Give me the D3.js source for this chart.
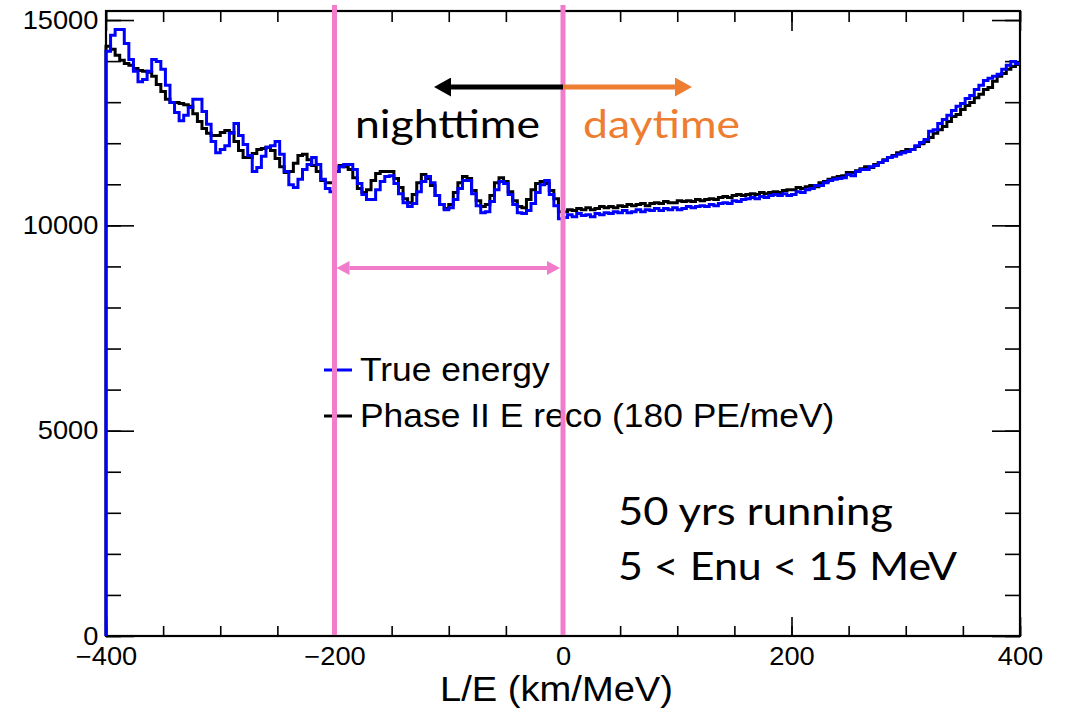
<!DOCTYPE html>
<html>
<head>
<meta charset="utf-8">
<script src="https://cdn.jsdelivr.net/npm/d3@7"></script>
<style>
  body { margin: 0; background: #fff; }
  text { font-family: "Liberation Sans", Arial, Helvetica, sans-serif; }
  .note { font-family: Lato, "Open Sans", sans-serif; }
</style>
</head>
<body>
<div id="vis"></div>
<script>
// histogram binning: 200 bins of 4 km/MeV from -400 to 400
const binStart = -400;
const binWidth = 4;

// true neutrino energy, counts per bin
const trueEnergy = [
  14240, 14630, 14770, 14770, 14430, 14040, 13750, 13500, 13550, 13750,
  14040, 13990, 13800, 13410, 12990, 12750, 12550, 12680, 12870, 13070,
  13070, 12770, 12460, 12040, 11770, 11850, 11940, 12240, 12480, 12190,
  11970, 11700, 11310, 11410, 11680, 11900, 11940, 12040, 11730, 11310,
  10990, 10920, 11120, 11360, 11480, 11650, 11480, 11120, 10900, 10820,
  11310, 11430, 11480, 11480, 11360, 11020, 10750, 10630, 10630, 10870,
  11070, 11190, 11210, 11020, 10770, 10550, 10460, 10530, 10820, 11070,
  11190, 11040, 10730, 10510, 10380, 10430, 10630, 10900, 11090, 11090,
  10770, 10480, 10310, 10330, 10580, 10870, 11070, 11020, 10750, 10510,
  10310, 10290, 10360, 10530, 10800, 10990, 11090, 10750, 10480, 10160,
  10190, 10260, 10210, 10290, 10240, 10260, 10210, 10290, 10260, 10310,
  10290, 10330, 10310, 10360, 10310, 10330, 10380, 10330, 10380, 10360,
  10410, 10360, 10410, 10380, 10430, 10380, 10410, 10460, 10430, 10460,
  10480, 10460, 10510, 10480, 10530, 10550, 10530, 10600, 10580, 10630,
  10650, 10680, 10650, 10700, 10680, 10730, 10750, 10730, 10770, 10730,
  10750, 10820, 10800, 10870, 10900, 10970, 10970, 11040, 11090, 11120,
  11140, 11160, 11240, 11210, 11310, 11360, 11360, 11430, 11460, 11530,
  11580, 11650, 11680, 11730, 11770, 11800, 11850, 11940, 12020, 12090,
  12290, 12330, 12480, 12580, 12680, 12800, 12900, 12970, 13090, 13160,
  13310, 13410, 13530, 13580, 13630, 13680, 13800, 13900, 13990, 13940
];

// Phase II reconstructed energy (180 PE/MeV), counts per bin
const phaseTwoReco = [
  14360, 14290, 14140, 14020, 13940, 13900, 13820, 13770, 13750, 13730,
  13630, 13430, 13260, 13070, 12990, 12990, 12970, 12940, 12900, 12720,
  12530, 12360, 12240, 12190, 12190, 12260, 12310, 12260, 12040, 11820,
  11650, 11650, 11750, 11850, 11870, 11900, 11820, 11630, 11430, 11290,
  11310, 11510, 11700, 11730, 11600, 11460, 11310, 11090, 11040, 11040,
  11310, 11460, 11430, 11360, 11160, 10900, 10800, 10870, 11090, 11260,
  11310, 11310, 11310, 11140, 10920, 10650, 10550, 10750, 11040, 11240,
  11140, 10970, 10730, 10510, 10410, 10510, 10800, 11040, 11190, 11140,
  10850, 10600, 10460, 10510, 10730, 11040, 11160, 11070, 10820, 10600,
  10460, 10430, 10630, 10870, 11020, 11070, 11020, 10850, 10650, 10330,
  10330, 10380, 10360, 10410, 10380, 10430, 10380, 10410, 10460, 10430,
  10460, 10430, 10480, 10460, 10510, 10480, 10510, 10530, 10480, 10530,
  10550, 10530, 10580, 10550, 10550, 10600, 10580, 10600, 10580, 10630,
  10600, 10630, 10650, 10630, 10680, 10700, 10680, 10730, 10750, 10730,
  10750, 10770, 10750, 10800, 10770, 10800, 10820, 10800, 10850, 10870,
  10870, 10920, 10900, 10940, 10970, 10940, 11040, 11070, 11120, 11160,
  11190, 11210, 11290, 11290, 11330, 11380, 11430, 11410, 11480, 11530,
  11600, 11650, 11700, 11770, 11800, 11850, 11850, 11920, 11990, 12040,
  12140, 12240, 12330, 12410, 12530, 12650, 12700, 12820, 12920, 12990,
  13110, 13190, 13310, 13360, 13510, 13630, 13700, 13800, 13870, 13920
];

const xTicks = [-400, -200, 0, 200, 400];
const yTicks = [0, 5000, 10000, 15000];
const regionEdges = [-200, 0];   // day/night boundary markers

const W = 1066, H = 714;
const pink = "#f07ccb";
const orange = "#ed7d31";
const stretch = 1.09;   // ROOT text is a bit wide

const svg = d3.select("#vis").append("svg")
  .attr("width", W).attr("height", H);

const x = d3.scaleLinear().domain([-400, 400]).range([106, 1020]);
const y = d3.scaleLinear().domain([0, 15220]).range([636, 11]);

// ----- axes (ROOT style: inward ticks on all four sides) -----
const minorX = d3.range(-400, 401, 50);
const minorY = d3.range(0, 15001, 1000);

function tickAxis(axis, tr, size) {
  svg.append("g")
    .attr("transform", tr)
    .call(axis.tickSize(size).tickFormat(""))
    .call(g => g.select(".domain").remove())
    .selectAll("line").attr("stroke", "#000").attr("stroke-width", 1.6);
}

tickAxis(d3.axisBottom(x).tickValues(minorX), "translate(0,636)", -10);
tickAxis(d3.axisBottom(x).tickValues(xTicks), "translate(0,636)", -19);
tickAxis(d3.axisTop(x).tickValues(minorX), "translate(0,11)", -11);
tickAxis(d3.axisTop(x).tickValues(xTicks), "translate(0,11)", -20);
tickAxis(d3.axisLeft(y).tickValues(minorY), "translate(106,0)", -15);
tickAxis(d3.axisLeft(y).tickValues(yTicks), "translate(106,0)", -28);
tickAxis(d3.axisRight(y).tickValues(minorY), "translate(1020,0)", -15);
tickAxis(d3.axisRight(y).tickValues(yTicks), "translate(1020,0)", -28);

// tick labels
const xLab = svg.append("g")
  .attr("transform", "translate(0,636)")
  .call(d3.axisBottom(x).tickValues(xTicks).tickSize(0).tickPadding(11)
    .tickFormat(d => d < 0 ? "\u2212" + Math.abs(d) : d));
xLab.select(".domain").remove();
xLab.selectAll("text")
  .attr("font-size", 25).attr("fill", "#000")
  .attr("font-family", "Liberation Sans, Arial, sans-serif")
  .attr("transform", `scale(${stretch},1)`);

const yLab = svg.append("g")
  .attr("transform", "translate(106,0)")
  .call(d3.axisLeft(y).tickValues(yTicks).tickSize(0).tickPadding(7)
    .tickFormat(d3.format("d")));
yLab.select(".domain").remove();
yLab.selectAll("text")
  .attr("font-size", 25).attr("fill", "#000")
  .attr("font-family", "Liberation Sans, Arial, sans-serif")
  .attr("transform", `scale(${stretch},1)`);

svg.append("text")
  .attr("transform", `translate(673,701) scale(${stretch},1)`)
  .attr("text-anchor", "end")
  .attr("font-size", 35)
  .text("L/E (km/MeV)");

// frame
svg.append("rect")
  .attr("x", x(-400)).attr("y", y(15220))
  .attr("width", x(400) - x(-400)).attr("height", y(0) - y(15220))
  .attr("fill", "none").attr("stroke", "#000").attr("stroke-width", 2.2);

// ----- histograms -----
function histPoints(values) {
  const pts = [[binStart, 0]];
  values.forEach((v, i) => pts.push([binStart + i * binWidth, v]));
  pts.push([binStart + values.length * binWidth, values[values.length - 1]]);
  return pts;
}

const step = d3.line()
  .x(d => x(d[0]))
  .y(d => y(d[1]))
  .curve(d3.curveStepAfter);

svg.append("path")
  .attr("d", step(histPoints(phaseTwoReco)))
  .attr("fill", "none").attr("stroke", "#000").attr("stroke-width", 3);

svg.append("path")
  .attr("d", step(histPoints(trueEnergy)))
  .attr("fill", "none").attr("stroke", "#0000ff").attr("stroke-width", 3);

// ----- legend -----
const legend = [
  { label: "True energy", color: "#0000ff", yy: 370 },
  { label: "Phase II E reco (180 PE/meV)", color: "#000", yy: 416 }
];
legend.forEach(d => {
  svg.append("line")
    .attr("x1", 324).attr("x2", 352)
    .attr("y1", d.yy).attr("y2", d.yy)
    .attr("stroke", d.color).attr("stroke-width", 3);
  svg.append("text")
    .attr("transform", `translate(360,${d.yy + 11}) scale(${stretch},1)`)
    .attr("font-size", 32.5)
    .text(d.label);
});

// ----- markers and arrows -----
const defs = svg.append("defs");
function arrowHead(id, color, w, h) {
  defs.append("marker")
    .attr("id", id)
    .attr("viewBox", `0 0 ${w} ${h}`)
    .attr("refX", 0).attr("refY", h / 2)
    .attr("markerWidth", w).attr("markerHeight", h)
    .attr("markerUnits", "userSpaceOnUse")
    .attr("orient", "auto-start-reverse")
    .append("path")
    .attr("d", `M0,0L${w},${h / 2}L0,${h}Z`)
    .attr("fill", color);
}
arrowHead("headBlack", "#000", 17, 19);
arrowHead("headOrange", orange, 17, 19);
arrowHead("headPink", pink, 13, 14);

svg.selectAll(".edge")
  .data(regionEdges)
  .join("line")
  .attr("class", "edge")
  .attr("x1", d => x(d)).attr("x2", d => x(d))
  .attr("y1", 5).attr("y2", y(0) - 1)
  .attr("stroke", pink).attr("stroke-width", 5);

// span of the nighttime window
svg.append("line")
  .attr("x1", x(-200) + 15).attr("x2", x(0) - 16)
  .attr("y1", 268).attr("y2", 268)
  .attr("stroke", pink).attr("stroke-width", 4)
  .attr("marker-start", "url(#headPink)")
  .attr("marker-end", "url(#headPink)");

svg.append("line")
  .attr("x1", x(0)).attr("x2", x(-98))
  .attr("y1", 87).attr("y2", 87)
  .attr("stroke", "#000").attr("stroke-width", 5)
  .attr("marker-end", "url(#headBlack)");

svg.append("line")
  .attr("x1", x(0)).attr("x2", x(98))
  .attr("y1", 87).attr("y2", 87)
  .attr("stroke", orange).attr("stroke-width", 5)
  .attr("marker-end", "url(#headOrange)");

// ----- annotations -----
const notes = [
  { text: "nighttime", x: 355, y: 138, w: 185, color: "#000" },
  { text: "daytime", x: 583, y: 138, w: 157, color: orange },
  { text: "50 yrs running", x: 618, y: 525, w: 275, color: "#000" },
  { text: "5 < Enu < 15 MeV", x: 618, y: 580, w: 339, color: "#000" }
];
svg.selectAll(".note")
  .data(notes)
  .join("text")
  .attr("class", "note")
  .attr("x", d => d.x).attr("y", d => d.y)
  .attr("font-size", 38)
  .attr("textLength", d => d.w)
  .attr("lengthAdjust", "spacingAndGlyphs")
  .attr("fill", d => d.color)
  .text(d => d.text);
</script>
</body>
</html>
